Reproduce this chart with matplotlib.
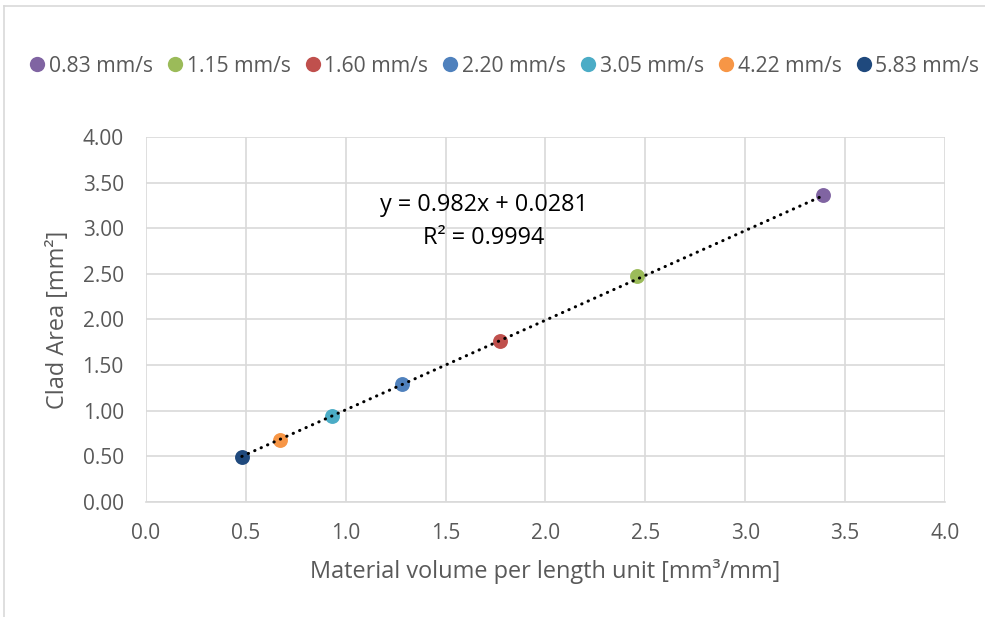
import matplotlib
matplotlib.use("Agg")
import matplotlib.pyplot as plt
from matplotlib.lines import Line2D
import numpy as np

# ---- data ----
labels = ["0.83 mm/s", "1.15 mm/s", "1.60 mm/s", "2.20 mm/s", "3.05 mm/s", "4.22 mm/s", "5.83 mm/s"]
x_vals = [3.39, 2.46, 1.77, 1.28, 0.93, 0.67, 0.48]
y_vals = [3.36, 2.48, 1.76, 1.29, 0.94, 0.68, 0.49]
colors = ["#8064a2", "#9bbb59", "#c0504d", "#4f81bd", "#4bacc6", "#f79646", "#1f497d"]
slope, intercept, r2 = 0.982, 0.0281, 0.9994
x_ticks = [0.0, 0.5, 1.0, 1.5, 2.0, 2.5, 3.0, 3.5, 4.0]
y_ticks = [0.0, 0.5, 1.0, 1.5, 2.0, 2.5, 3.0, 3.5, 4.0]

plt.rcParams['font.family'] = ['Open Sans', 'DejaVu Sans']
gray = "#595959"

fig = plt.figure(figsize=(9.85, 6.17), dpi=100)
ax = fig.add_axes([0.1482, 0.1864, 0.9594 - 0.1482, 0.778 - 0.1864])

for xv, yv, c, lab in zip(x_vals, y_vals, colors, labels):
    ax.scatter([xv], [yv], s=115, color=c, zorder=3, label=lab, linewidths=0)

xs = np.array([min(x_vals), max(x_vals)])
ax.plot(xs, slope * xs + intercept, color="black", linestyle=(0, (0.1, 2.2)),
        linewidth=2.2, dash_capstyle="round", zorder=4)

ax.text(1.69, 3.255, f"y = {slope}x + {intercept}", ha="center", va="center",
        fontsize=16.8, color="black")
ax.text(1.69, 2.895, f"R² = {r2}", ha="center", va="center",
        fontsize=16.8, color="black")

ax.set_xlim(0, 4)
ax.set_ylim(0, 4)
ax.set_xticks(x_ticks)
ax.set_yticks(y_ticks)
ax.set_xticklabels([f"{v:.1f}" for v in x_ticks])
ax.set_yticklabels([f"{v:.2f}" for v in y_ticks])
ax.tick_params(length=0, labelsize=15, colors=gray)
ax.tick_params(axis="x", pad=15)
ax.tick_params(axis="y", pad=16)
ax.grid(True, color="#d9d9d9", linewidth=1.2)
ax.set_axisbelow(True)
for s in ["top", "right", "left"]:
    ax.spines[s].set_visible(False)
ax.spines["bottom"].set_color("#d9d9d9")
ax.spines["bottom"].set_linewidth(1.2)

ax.set_xlabel("Material volume per length unit [mm³/mm]", fontsize=16.9, color=gray, labelpad=11)
ax.set_ylabel("Clad Area [mm²]", fontsize=16.9, color=gray, labelpad=9)

handles = [Line2D([0], [0], marker="o", linestyle="none", markersize=11,
                  markerfacecolor=c, markeredgewidth=0) for c in colors]
fig.legend(handles, labels, loc="center", bbox_to_anchor=(0.510, 1 - 66 / 617), ncol=7,
           frameon=False, labelcolor=gray, handletextpad=0.0,
           columnspacing=0.5, handlelength=1.1,
           prop={'family': ['Open Sans', 'DejaVu Sans'], 'size': 15.2})

# outer chart frame
fig.add_artist(Line2D([4 / 985, 1], [1 - 6 / 617, 1 - 6 / 617], color="#d9d9d9", linewidth=1.2))
fig.add_artist(Line2D([4 / 985, 4 / 985], [0, 1 - 6 / 617], color="#d9d9d9", linewidth=1.2))

fig.savefig("out.png", dpi=100, facecolor="white")
